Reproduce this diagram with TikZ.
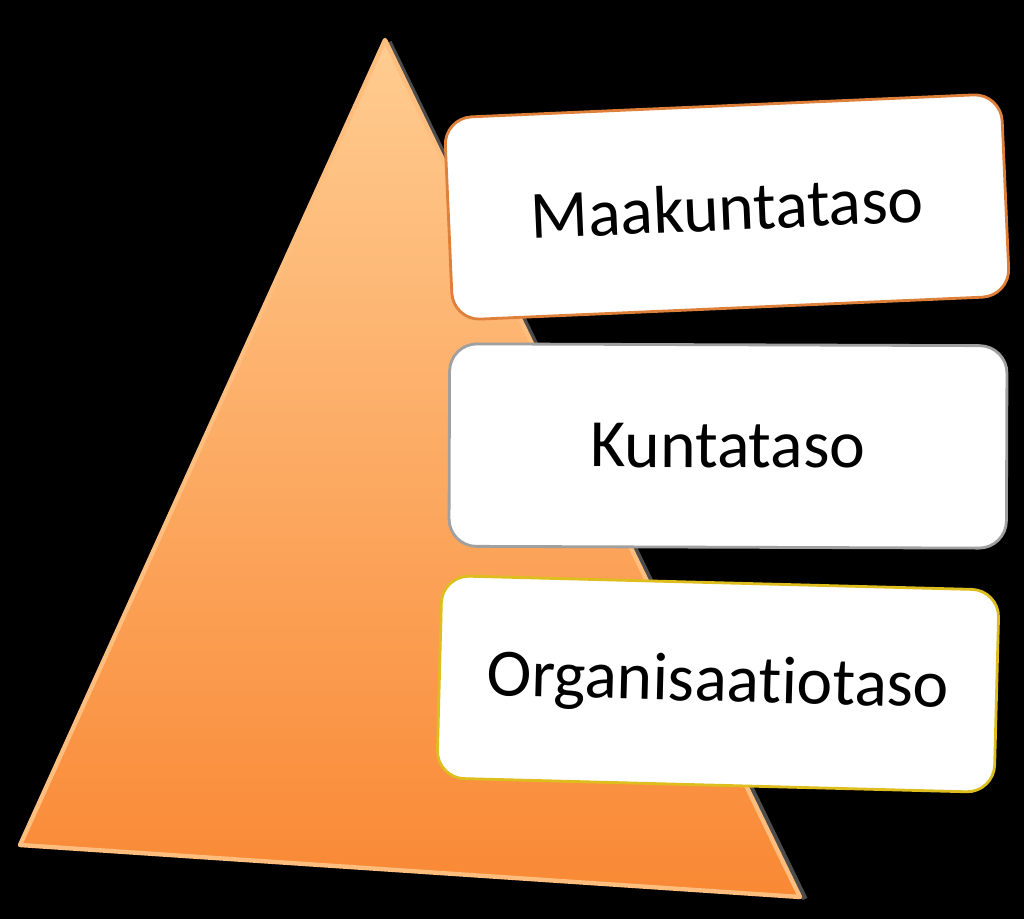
\documentclass[tikz,border=0pt]{standalone}
\usepackage{fontspec}
\setmainfont{Carlito}[Ligatures=NoCommon]
\usetikzlibrary{positioning}
\definecolor{PyramidTop}{RGB}{255,204,145}
\definecolor{PyramidMid}{RGB}{252,165,90}
\definecolor{PyramidBottom}{RGB}{249,136,52}
\definecolor{RimColor}{RGB}{255,190,125}
\definecolor{MaakuntaEdge}{RGB}{222,128,58}
\definecolor{KuntaEdge}{RGB}{160,160,160}
\definecolor{OrgEdge}{RGB}{222,190,30}
\tikzset{
  level box/.style={rectangle, rounded corners=0.55cm, fill=white, line width=1.6pt, minimum width=11.15cm, minimum height=4.05cm, font=\fontsize{38.5}{44}\selectfont, text=black},
  pyramid rim/.style={line width=2.5pt, RimColor, line join=round},
  pyramid shadow/.style={line width=3pt, gray!60!black, line join=round}
}
\begin{document}
\begin{tikzpicture}[x=0.02cm, y=-0.02cm]
  % Background
  \fill[black] (0,0) rectangle (1024,919);

  % Pyramid
  \coordinate (apex) at (385,40);
  \coordinate (left) at (20,845);
  \coordinate (right) at (800,897);
  \draw[pyramid shadow] (389,42) -- (805,899);
  \shade[top color=PyramidTop, middle color=PyramidMid, bottom color=PyramidBottom] (apex) -- (right) -- (left) -- cycle;
  \draw[pyramid rim] (apex) -- (right) -- (left) -- cycle;

  % Levels
  \node[level box, draw=MaakuntaEdge, rotate=2.5] (maakunta) at (727,207) {Maakuntataso};
  \node[level box, draw=KuntaEdge, rotate=-0.2] (kunta) at (728,446) {Kuntataso};
  \node[level box, draw=OrgEdge, rotate=-1.5] (organisaatio) at (718,684) {Organisaatiotaso};
\end{tikzpicture}
\end{document}
